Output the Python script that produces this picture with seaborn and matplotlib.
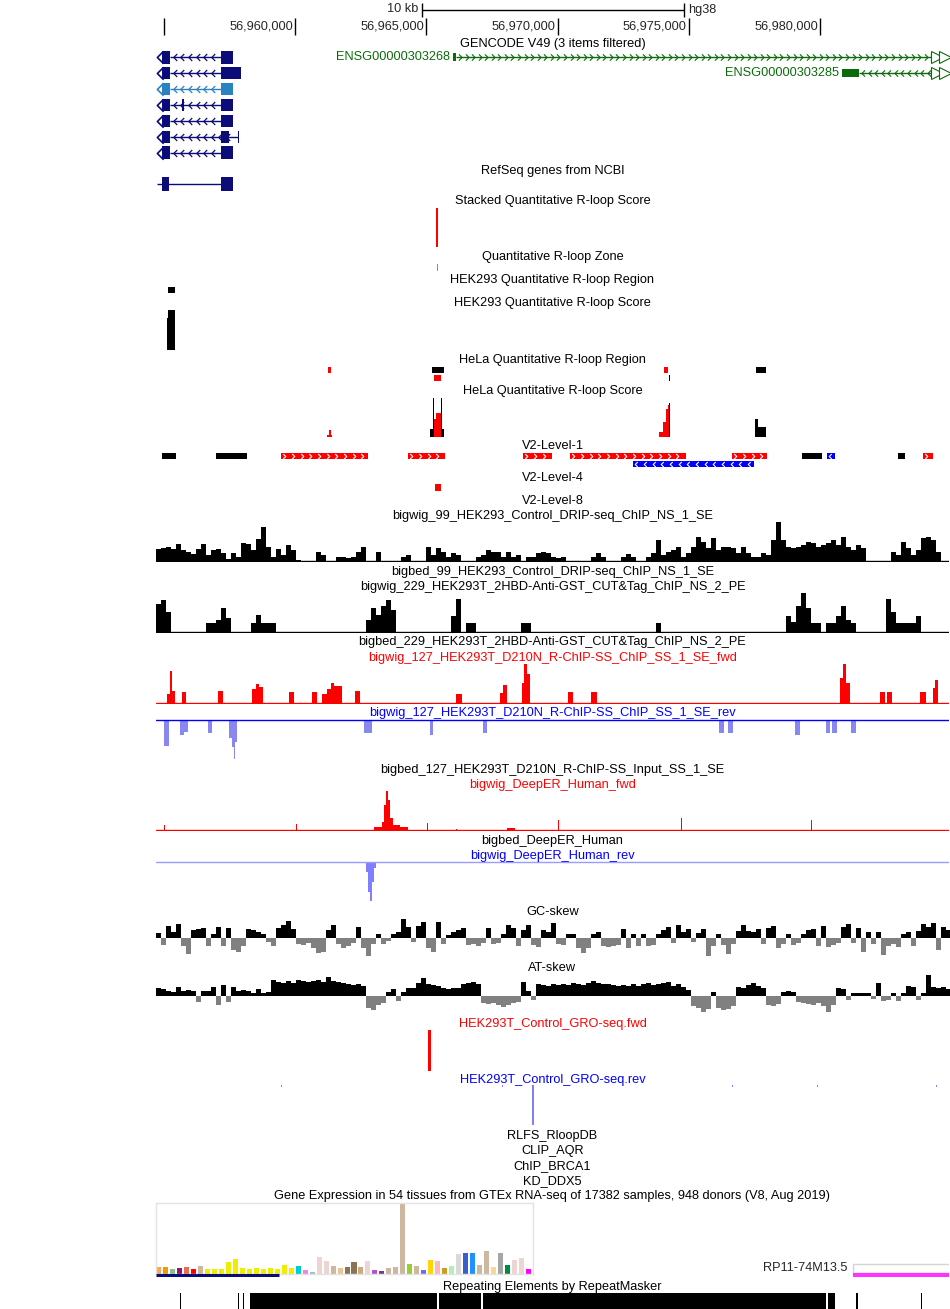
import numpy as np
import pandas as pd
import matplotlib
matplotlib.use("Agg")
import matplotlib.pyplot as plt
from matplotlib.path import Path
import seaborn as sns

sns.set_theme(style="white")
plt.rcParams["font.family"] = ["Liberation Sans", "DejaVu Sans"]

# window on chr (hg38): x values are kb after 56,950,000
REGION_BASE = 56_950_000
VIEW_START, VIEW_END = 4.695, 34.916
RULER_TICKS = [5, 10, 15, 20, 25, 30]
SCALE_BAR = (14.83, 24.83)  # 10 kb

WIN_START, WIN_KB = 4.695, 0.1906

drip_signal = [12, 13, 14, 12, 17, 11, 9, 7, 12, 17,
               6, 11, 12, 8, 2, 8, 4, 18, 17, 11,
               22, 34, 14, 4, 12, 6, 16, 11, 1, 0,
               0, 0, 9, 6, 0, 0, 4, 4, 3, 4,
               9, 14, 0, 0, 9, 0, 0, 0, 0, 4,
               6, 0, 0, 0, 14, 6, 13, 9, 4, 8,
               6, 0, 0, 0, 4, 6, 11, 9, 9, 4,
               9, 4, 6, 0, 4, 4, 8, 9, 8,
               4, 3, 4, 0, 0, 0, 0, 0, 4, 8,
               4, 0, 0, 0, 4, 7, 4, 0, 0, 4,
               8, 21, 6, 9, 11, 14, 4, 8, 14, 24,
               19, 13, 23, 11, 14, 14, 13, 8, 14, 8,
               4, 4, 8, 6, 21, 39, 21, 14, 13, 14,
               16, 19, 18, 14, 16, 18, 21, 16, 24, 14,
               11, 16, 13, 0, 0, 0, 0, 0, 9, 6,
               19, 13, 6, 11, 23, 24, 21, 9, 0, 0]

cuttag_signal = [28, 32, 20, 0, 0, 0, 0, 0, 0, 0,
                 9, 9, 12, 24, 14, 0, 0, 0, 0, 9,
                 17, 9, 9, 9, 0, 0, 0, 0, 0, 0,
                 0, 0, 0, 0, 0, 0, 0, 0, 0, 0,
                 0, 0, 12, 24, 17, 26, 32, 22, 0, 0,
                 0, 0, 0, 0, 0, 0, 0, 0, 0, 16,
                 33, 0, 9, 9, 0, 0, 0, 0, 0, 0,
                 0, 0, 0, 9, 9, 0, 0, 0, 0, 0,
                 0, 0, 0, 0, 0, 0, 0, 0, 0, 0,
                 0, 0, 0, 0, 0, 0, 0, 0, 0, 0,
                 9, 0, 0, 0, 0, 0, 0, 0, 0, 0,
                 0, 0, 0, 0, 0, 0, 0, 0, 0, 0,
                 0, 0, 0, 0, 0, 0, 16, 10, 26, 39,
                 24, 9, 9, 0, 9, 9, 16, 26, 12, 9,
                 0, 0, 0, 0, 0, 0, 33, 20, 9, 9,
                 9, 9, 16, 0, 0, 0, 0, 0, 0]

gc_skew = [5, -7, 12, 6, 14, -8, -16, 8, 9, 10,
           -8, 4, 11, -8, 10, -12, -14, -8, 9, 8,
           6, 4, -4, -8, 10, 13, 17, 9, -6, -7,
           -5, -10, -15, -14, 8, 13, -6, -10, -8, -5,
           11, -10, -18, -6, 4, -6, -3, 4, 6, 19,
           11, -4, 12, 16, -10, -14, 16, -6, 3, 6,
           8, 10, -7, -6, -8, -5, 10, -6, -5, 4,
           13, 10, -8, 8, 13, -7, -9, 8, 6,
           15, -6, -7, 4, 4, -10, -15, -10, 4, 6,
           -8, -9, -8, -7, 9, -10, 4, -8, 4, -8,
           -7, 4, 8, 11, -5, 13, 6, 9, -4, 5,
           9, -18, -8, 4, -7, -16, -6, 7, 13, 7,
           6, 9, -6, 10, 12, -10, -6, 4, -7, -5,
           4, 8, 9, -8, 12, -9, -7, -5, 11, 14,
           -5, 10, -14, 6, -6, 6, -17, -8, -6, -9,
           4, 6, -8, 7, 14, 11, 15, -12, 11, 8]

at_skew = [8, 7, 5, 4, 9, 5, 6, 5, -6, 5,
           5, 9, -9, 11, -6, 9, 5, 6, 5, 3,
           7, 3, 4, 16, 14, 13, 15, 13, 16, 15,
           14, 15, 16, 14, 19, 15, 14, 13, 12, 11,
           12, 10, -12, -14, -9, -7, 4, 7, -5, 4,
           8, 8, 13, 18, 12, 11, 10, 8, 7, 8,
           8, 12, 13, 14, 12, -7, -8, -7, -9, -11,
           -9, -7, -6, 14, 5, -4, 12, 11, 10,
           12, 11, 12, 11, 13, 12, 11, 13, 15, 13,
           12, 12, 11, 10, 11, 10, 12, 10, 12, 13,
           11, 12, 13, 14, 10, 12, 9, 6, -10, -12,
           -16, -13, 4, -12, -14, -13, -10, 9, 8, 11,
           13, 10, 8, -9, -10, -8, 4, 5, 4, -6,
           -7, -8, -9, -7, -10, -16, -9, 8, 7, -4,
           3, 3, 3, 3, -3, 13, -5, -4, 3, -5,
           3, 10, 9, -4, 3, 21, 9, 8, 9, 7]

# GENCODE V49 transcripts (exons, kb)
gencode_exons = [
    [(4.92, 5.23), (7.17, 7.63)],
    [(4.92, 5.23), (7.17, 7.93)],
    [(4.92, 5.23), (7.17, 7.63)],
    [(4.92, 5.23), (5.69, 5.76), (7.17, 7.63)],
    [(4.92, 5.23), (7.17, 7.63)],
    [(4.92, 5.23), (7.17, 7.48), (7.82, 7.86)],
    [(4.92, 5.23), (7.17, 7.63)],
]
gencode_colors = ["#0c0c78", "#0c0c78", "#2b82c2", "#0c0c78",
                  "#0c0c78", "#0c0c78", "#0c0c78"]
lnc_names = ["ENSG00000303268", "ENSG00000303285"]
lnc_exon = [(16.01, 16.13), (30.83, 31.49)]
lnc_strand = ["+", "-"]
refseq_exons = [(4.92, 5.19), (7.17, 7.63)]

stacked_score = (15.366, 15.442)
rloop_zone = (15.404, 15.432)
hek_region = (5.152, 5.438)
hek_score_start = [5.114, 5.152]
hek_score_end = [5.152, 5.438]
hek_score_val = [32, 40]

hela_region_row = [0, 0, 0, 0, 1, 1]
hela_region_start = [11.250, 15.213, 24.055, 27.546, 15.289, 24.245]
hela_region_end = [11.364, 15.671, 24.207, 27.942, 15.556, 24.284]
hela_region_col = ["red", "black", "red", "black", "red", "black"]

hela_black_start = [15.137, 15.251, 15.556, 15.595, 24.245, 27.523, 27.637]
hela_black_end = [15.251, 15.289, 15.595, 15.671, 24.284, 27.637, 27.942]
hela_black_val = [8, 39, 39, 8, 34, 18, 10]
hela_red_start = [11.212, 11.288, 11.364, 15.289, 15.366, 23.864, 24.017, 24.131, 24.207]
hela_red_end = [11.288, 11.364, 11.402, 15.366, 15.556, 24.017, 24.131, 24.207, 24.245]
hela_red_val = [2, 7, 2, 18, 24, 5, 15, 28, 32]

v2_l1_row = [0] * 11 + [1]
v2_l1_start = [4.924, 6.982, 9.459, 14.299, 18.681, 20.473, 26.646,
               29.314, 30.267, 32.973, 33.925, 22.873]
v2_l1_end = [5.457, 8.163, 12.774, 15.709, 19.787, 24.893, 27.980,
             30.076, 30.572, 33.239, 34.306, 27.485]
v2_l1_strand = [".", ".", "+", "+", "+", "+", "+", ".", "-", ".", "+", "-"]
v2_l4 = (15.328, 15.557)

rchip_fwd_start = [5.114, 5.229, 5.305, 5.686, 7.058, 8.354, 8.506, 8.620, 9.764,
                   10.640, 11.021, 11.212, 11.364, 11.479, 12.279, 16.128, 17.805,
                   17.919, 18.643, 18.719, 18.833, 20.396, 21.273, 30.762, 30.876,
                   30.991, 32.286, 32.553, 33.811, 34.306, 34.382]
rchip_fwd_end = [5.229, 5.305, 5.419, 5.838, 7.248, 8.506, 8.620, 8.773, 9.954,
                 10.831, 11.212, 11.364, 11.479, 11.783, 12.469, 16.357, 17.919,
                 18.072, 18.719, 18.833, 18.948, 20.587, 21.502, 30.876, 30.991,
                 31.143, 32.477, 32.744, 34.040, 34.382, 34.497]
rchip_fwd_val = [9, 32, 12, 11, 12, 14, 19, 16, 11, 11, 9, 14, 20, 17, 12, 9,
                 10, 18, 20, 39, 29, 11, 11, 25, 39, 20, 11, 11, 11, 15, 23]

rchip_rev_start = [5.000, 5.610, 5.762, 6.677, 7.477, 7.591, 7.668, 7.706, 12.622,
                   15.137, 17.157, 26.148, 26.491, 29.050, 30.232, 30.460, 31.186]
rchip_rev_end = [5.190, 5.762, 5.915, 6.829, 7.591, 7.668, 7.706, 7.782, 12.927,
                 15.251, 17.309, 26.339, 26.682, 29.241, 30.384, 30.651, 31.376]
rchip_rev_val = [26, 15, 12, 13, 18, 27, 39, 22, 13, 15, 13, 13, 13, 15, 13, 13, 13]

deeper_fwd_start = [5.000, 10.030, 13.003, 13.308, 13.384, 13.460, 13.537, 13.613,
                    13.727, 13.994, 15.023, 16.128, 18.072, 20.015, 24.688, 29.654]
deeper_fwd_end = [5.038, 10.068, 13.308, 13.384, 13.460, 13.537, 13.613, 13.727,
                  13.994, 14.299, 15.061, 16.166, 18.377, 20.053, 24.726, 29.692]
deeper_fwd_val = [5, 6, 3, 8, 25, 39, 30, 12, 5, 3, 7, 1, 2, 10, 12, 10]

deeper_rev_start = [12.698, 12.774, 12.851, 12.927, 13.003]
deeper_rev_end = [12.774, 12.851, 12.927, 13.003, 13.079]
deeper_rev_val = [10, 30, 39, 20, 6]

gro_fwd = (15.061, 15.160)
gro_rev_start = [9.46, 17.88, 19.009, 26.66, 29.90, 34.43]
gro_rev_end = [9.50, 17.92, 19.089, 26.70, 29.94, 34.47]
gro_rev_val = [1.5, 1.5, 40, 1.5, 1.5, 1.5]

gtex_tissues = [
    "Adipose - Subcutaneous", "Adipose - Visceral", "Adrenal Gland", "Artery - Aorta",
    "Artery - Coronary", "Artery - Tibial", "Bladder", "Brain - Amygdala",
    "Brain - Anterior cingulate", "Brain - Caudate", "Brain - Cerebellar Hemisphere",
    "Brain - Cerebellum", "Brain - Cortex", "Brain - Frontal Cortex", "Brain - Hippocampus",
    "Brain - Hypothalamus", "Brain - Nucleus accumbens", "Brain - Putamen",
    "Brain - Spinal cord", "Brain - Substantia nigra", "Breast", "Cells - EBV lymphocytes",
    "Cells - Cultured fibroblasts", "Cervix - Ectocervix", "Cervix - Endocervix",
    "Colon - Sigmoid", "Colon - Transverse", "Esophagus - GEJ", "Esophagus - Mucosa",
    "Esophagus - Muscularis", "Fallopian Tube", "Heart - Atrial Appendage",
    "Heart - Left Ventricle", "Kidney - Cortex", "Kidney - Medulla", "Liver", "Lung",
    "Minor Salivary Gland", "Muscle - Skeletal", "Nerve - Tibial", "Ovary", "Pancreas",
    "Pituitary", "Prostate", "Skin - Not Sun Exposed", "Skin - Sun Exposed",
    "Small Intestine", "Spleen", "Stomach", "Testis", "Thyroid", "Uterus", "Vagina",
    "Whole Blood"]
gtex_colors = [
    "#FFA54F", "#EE9A00", "#8FBC8F", "#8B1C62", "#EE6A50", "#FF0000", "#CDB79E",
    "#EEEE00", "#EEEE00", "#EEEE00", "#EEEE00", "#EEEE00", "#EEEE00", "#EEEE00",
    "#EEEE00", "#EEEE00", "#EEEE00", "#EEEE00", "#EEEE00", "#EEEE00", "#00CDCD",
    "#EE82EE", "#9AC0CD", "#EED5D2", "#EED5D2", "#CDB79E", "#EEC591", "#8B7355",
    "#8B7355", "#CDAA7D", "#EED5D2", "#B452CD", "#7A378B", "#CDB79E", "#CDB79E",
    "#CDB79E", "#9ACD32", "#CDB79E", "#7A67EE", "#FFD700", "#FFB6C1", "#CD9B1D",
    "#B4EEB4", "#D9D9D9", "#3A5FCD", "#1E90FF", "#CDB79E", "#CDB79E", "#FFD39B",
    "#A6A6A6", "#008B45", "#EED5D2", "#EED5D2", "#FF00FF"]
gtex_tpm = [20, 20, 13, 16, 20, 13, 23, 13, 13, 13, 34, 43, 17, 13, 17, 13, 17, 13, 25, 17,
            23, 10, 4, 49, 37, 23, 17, 20, 34, 20, 37, 10, 7, 17, 20, 210, 28, 23, 10, 40,
            37, 16, 23, 58, 61, 61, 25, 67, 20, 61, 25, 40, 46, 13]
gtex_gene_left = (4.695, 9.367)
gtex_gene_right = (31.26, 34.95)

rmsk_start = [5.61, 7.81, 8.00, 8.277, 15.480, 17.145, 30.305, 31.39, 33.83]
rmsk_end = [5.66, 7.86, 8.05, 15.393, 17.066, 30.229, 30.561, 31.44, 33.88]

# ---------------------------------------------------------------
W, H = 950, 1309
FS = 9.2
GREEN = "#0b6b0b"
fig = plt.figure(figsize=(W / 100, H / 100), dpi=100)

CHEV_R = Path([(-0.5, 1), (0.5, 0), (-0.5, -1)], [Path.MOVETO, Path.LINETO, Path.LINETO])
CHEV_L = Path([(0.5, 1), (-0.5, 0), (0.5, -1)], [Path.MOVETO, Path.LINETO, Path.LINETO])


def px_axes(top, bottom, left=156, right=949):
    ax = fig.add_axes([left / W, 1 - bottom / H, (right - left) / W, (bottom - top) / H])
    ax.set_axis_off()
    return ax


def genome_axes(top, bottom):
    ax = px_axes(top, bottom)
    ax.set_xlim(VIEW_START, VIEW_END)
    return ax


def signal_axes(baseline, up, down):
    ax = genome_axes(baseline - up, baseline + down)
    ax.set_ylim(-down, up)
    return ax


def label(y, text, color="black"):
    fig.text(552.5 / W, 1 - y / H, text, ha="center", va="center", fontsize=FS, color=color)


def bars(ax, starts, ends, vals, color):
    s = np.asarray(starts)
    ax.bar(s, vals, width=np.asarray(ends) - s, align="edge", color=color, linewidth=0)


def steps(ax, vals, color, neg_color=None):
    v = np.asarray(vals, dtype=float)
    edges = WIN_START + WIN_KB * np.arange(len(v) + 1)
    vv = np.append(v, v[-1])
    ax.fill_between(edges, np.clip(vv, 0, None), step="post", color=color, linewidth=0)
    if neg_color:
        ax.fill_between(edges, np.clip(vv, None, 0), step="post", color=neg_color,
                        linewidth=0)


# ruler + scale bar
ax = genome_axes(0, 36)
ax.set_ylim(36, 0)
ax.hlines(10, *SCALE_BAR, color="black", lw=1)
ax.vlines(SCALE_BAR, 3, 17, color="black", lw=1)
ax.text(SCALE_BAR[0] - 0.12, 9.5, "10 kb", ha="right", va="center", fontsize=FS)
ax.text(SCALE_BAR[1] + 0.15, 9.5, "hg38", ha="left", va="center", fontsize=FS)
ax.vlines(RULER_TICKS, 18, 35, color="black", lw=1)
for t in RULER_TICKS[1:]:
    ax.text(t - 0.08, 26.5, f"{REGION_BASE + t * 1000:,.0f}", ha="right", va="center",
            fontsize=FS)

# GENCODE
label(44, "GENCODE V49 (3 items filtered)")
ax = genome_axes(49.4, 160.6)
ax.set_ylim(6.5, -0.5)
for row, (exons, col) in enumerate(zip(gencode_exons, gencode_colors)):
    lo, hi = exons[0][1], exons[-1][0]
    ax.hlines(row, lo, hi, color=col, lw=1)
    chev = np.arange(lo + 0.18, hi - 0.1, 0.29)
    ax.plot(chev, np.full(len(chev), row), ls="none", marker=CHEV_L, ms=5,
            mfc="none", mec=col, mew=0.9)
    for s, e in exons:
        ax.barh(row, e - s, left=s, height=0.78, color=col, linewidth=0)
    ax.plot([4.84], [row], marker=CHEV_L, ms=9, mfc="none", mec=col, mew=1.2)
for row, (name, (s, e), strand) in enumerate(zip(lnc_names, lnc_exon, lnc_strand)):
    tail = VIEW_END - 0.6
    ax.hlines(row, e, tail, color=GREEN, lw=1)
    chev = np.arange(e + 0.15, tail, 0.25)
    ax.plot(chev, np.full(len(chev), row), ls="none",
            marker=CHEV_R if strand == "+" else CHEV_L, ms=4.5, mfc="none", mec=GREEN,
            mew=0.8)
    ax.barh(row, e - s, left=s, height=0.5, color=GREEN, linewidth=0)
    ax.text(s - 0.1, row, name, ha="right", va="center", fontsize=FS, color=GREEN)
    ax.plot([VIEW_END - 0.46, VIEW_END - 0.17], [row, row], ls="none", marker=">", ms=8,
            mfc="white", mec=GREEN, mew=0.8)

# RefSeq
label(171, "RefSeq genes from NCBI")
ax = genome_axes(176, 192)
ax.set_ylim(-0.5, 0.5)
ax.hlines(0, 4.73, refseq_exons[-1][0], color="#0c0c78", lw=1)
for s, e in refseq_exons:
    ax.barh(0, e - s, left=s, height=0.9, color="#0c0c78", linewidth=0)

# R-loop score / region tracks
label(201, "Stacked Quantitative R-loop Score")
ax = genome_axes(208, 247)
ax.set_ylim(0, 1)
bars(ax, [stacked_score[0]], [stacked_score[1]], [1], "red")

label(257, "Quantitative R-loop Zone")
ax = genome_axes(264, 271)
ax.set_ylim(0, 1)
bars(ax, [rloop_zone[0]], [rloop_zone[1]], [1], "#909090")

label(280, "HEK293 Quantitative R-loop Region")
ax = genome_axes(287, 293)
ax.set_ylim(0, 1)
bars(ax, [hek_region[0]], [hek_region[1]], [1], "black")

label(303, "HEK293 Quantitative R-loop Score")
ax = genome_axes(310, 350)
ax.set_ylim(0, 40)
bars(ax, hek_score_start, hek_score_end, hek_score_val, "black")

label(360, "HeLa Quantitative R-loop Region")
ax = genome_axes(366.5, 381.5)
ax.set_ylim(1.5, -0.5)
for r, s, e, c in zip(hela_region_row, hela_region_start, hela_region_end, hela_region_col):
    ax.barh(r, e - s, left=s, height=0.8, color=c, linewidth=0)

label(391, "HeLa Quantitative R-loop Score")
ax = genome_axes(397, 437)
ax.set_ylim(0, 40)
bars(ax, hela_black_start, hela_black_end, hela_black_val, "black")
bars(ax, hela_red_start, hela_red_end, hela_red_val, "red")

# V2 levels
label(446, "V2-Level-1")
ax = genome_axes(452, 468)
ax.set_ylim(1.5, -0.5)
strand_col = {".": "black", "+": "#ff0000", "-": "#0000ff"}
for r, s, e, st in zip(v2_l1_row, v2_l1_start, v2_l1_end, v2_l1_strand):
    ax.barh(r, e - s, left=s, height=0.82, color=strand_col[st], linewidth=0)
    if st != ".":
        chev = np.arange(s + 0.13, e - 0.08, 0.33)
        ax.plot(chev, np.full(len(chev), r), ls="none",
                marker=CHEV_R if st == "+" else CHEV_L, ms=3.6,
                mfc="none", mec="white", mew=0.8)

label(478, "V2-Level-4")
ax = genome_axes(484, 491)
ax.set_ylim(0, 1)
bars(ax, [v2_l4[0]], [v2_l4[1]], [1], "red")

label(501, "V2-Level-8")

# DRIP / CUT&Tag
label(516, "bigwig_99_HEK293_Control_DRIP-seq_ChIP_NS_1_SE")
ax = signal_axes(561, 40, 1)
steps(ax, drip_signal, "black")
ax.axhline(0, color="black", lw=1)

label(572, "bigbed_99_HEK293_Control_DRIP-seq_ChIP_NS_1_SE")
label(587, "bigwig_229_HEK293T_2HBD-Anti-GST_CUT&Tag_ChIP_NS_2_PE")
ax = signal_axes(632, 40, 1)
steps(ax, cuttag_signal, "black")
ax.axhline(0, color="black", lw=1)

label(642, "bigbed_229_HEK293T_2HBD-Anti-GST_CUT&Tag_ChIP_NS_2_PE")

# R-ChIP
label(658, "bigwig_127_HEK293T_D210N_R-ChIP-SS_ChIP_SS_1_SE_fwd", "red")
ax = signal_axes(703, 41, 1)
bars(ax, rchip_fwd_start, rchip_fwd_end, rchip_fwd_val, "red")
ax.axhline(0, color="red", lw=1)

label(713, "bigwig_127_HEK293T_D210N_R-ChIP-SS_ChIP_SS_1_SE_rev", "blue")
ax = signal_axes(720, 1, 41)
bars(ax, rchip_rev_start, rchip_rev_end, -np.asarray(rchip_rev_val), "#8888f0")
ax.axhline(0, color="blue", lw=1)

label(770, "bigbed_127_HEK293T_D210N_R-ChIP-SS_Input_SS_1_SE")

# DeepER
label(785, "bigwig_DeepER_Human_fwd", "red")
ax = signal_axes(830, 41, 1)
bars(ax, deeper_fwd_start, deeper_fwd_end, deeper_fwd_val, "red")
ax.axhline(0, color="red", lw=1)

label(841, "bigbed_DeepER_Human")
label(856, "bigwig_DeepER_Human_rev", "blue")
ax = signal_axes(862, 1, 41)
bars(ax, deeper_rev_start, deeper_rev_end, -np.asarray(deeper_rev_val), "#7f7fff")
ax.axhline(0, color="#9a9aff", lw=1)

# skews
label(912, "GC-skew")
ax = signal_axes(938, 21, 21)
steps(ax, gc_skew, "black", "#808080")

label(968, "AT-skew")
ax = signal_axes(996, 22, 20)
steps(ax, at_skew, "black", "#808080")

# GRO-seq
label(1024, "HEK293T_Control_GRO-seq.fwd", "red")
ax = genome_axes(1030, 1071)
ax.set_ylim(0, 1)
bars(ax, [gro_fwd[0]], [gro_fwd[1]], [1], "red")

label(1080, "HEK293T_Control_GRO-seq.rev", "blue")
ax = signal_axes(1085, 0, 41)
bars(ax, gro_rev_start, gro_rev_end, -np.asarray(gro_rev_val), "#8080ff")

label(1136, "RLFS_RloopDB")
label(1151, "CLIP_AQR")
label(1166, "ChIP_BRCA1")
label(1181, "KD_DDX5")

# GTEx
label(1196, "Gene Expression in 54 tissues from GTEx RNA-seq of 17382 samples, "
            "948 donors (V8, Aug 2019)")
gtex = pd.DataFrame({"tissue": gtex_tissues, "tpm": gtex_tpm})
axg = fig.add_axes([156 / W, 1 - 1273.5 / H, 377 / W, 70.5 / H])
sns.barplot(data=gtex, x="tissue", y="tpm", hue="tissue",
            palette=dict(zip(gtex_tissues, gtex_colors)), legend=False,
            width=0.72, saturation=1, ax=axg, linewidth=0)
axg.set_xlim(-0.36, 53.64)
axg.set_ylim(0, 211)
axg.set(xticks=[], yticks=[], xlabel="", ylabel="")
axg.set_facecolor("white")
for sp in axg.spines.values():
    sp.set_color("#e2e2e2")
    sp.set_linewidth(1)

ax = genome_axes(1263, 1277)
ax.set_ylim(0, 1)
ax.hlines(0.17, *gtex_gene_left, color="#0c0c78", lw=2.2)
ax.bar(gtex_gene_right[0], 0.62, width=gtex_gene_right[1] - gtex_gene_right[0],
       bottom=0.3, align="edge", facecolor="white", edgecolor="#d4d4d4", linewidth=1)
ax.hlines(0.17, *gtex_gene_right, color="#ff33ff", lw=3)
fig.text(848 / W, 1 - 1268 / H, "RP11-74M13.5", ha="right", va="center", fontsize=FS)

# RepeatMasker
label(1287, "Repeating Elements by RepeatMasker")
ax = genome_axes(1293, 1309)
ax.set_ylim(0, 1)
bars(ax, rmsk_start, rmsk_end, np.ones(len(rmsk_start)), "black")

fig.savefig("out.png", dpi=100, facecolor="white")
